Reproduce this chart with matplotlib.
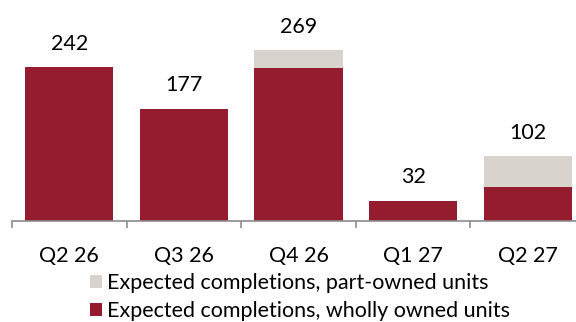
import matplotlib
matplotlib.use('Agg')
import matplotlib.pyplot as plt
from matplotlib.patches import Patch

quarters = ['Q2 26', 'Q3 26', 'Q4 26', 'Q1 27', 'Q2 27']
wholly_owned = [242, 177, 241, 32, 54]
part_owned = [0, 0, 28, 0, 48]
totals = [242, 177, 269, 32, 102]

red = '#951C2F'
grey = '#D8D3CD'

plt.rcParams['font.family'] = ['Lato', 'DejaVu Sans']

fig = plt.figure(figsize=(5.76, 3.22), dpi=100)
ax = fig.add_axes([12 / 576, 101 / 322, 573 / 576, 221 / 322])

x = list(range(len(quarters)))
ax.bar(x, wholly_owned, width=0.77, color=red, edgecolor='none', zorder=2)
ax.bar(x, part_owned, width=0.77, bottom=wholly_owned, color=grey, edgecolor='none', zorder=2)

for i, t in enumerate(totals):
    ax.text(i, t + 37, str(t), ha='center', va='center', fontsize=15.5, color='black')

ax.set_xlim(-0.5, 4.5)
ax.set_ylim(0, 348)
for s in ['top', 'right', 'left']:
    ax.spines[s].set_visible(False)
ax.spines['bottom'].set_color('#8C8C8C')
ax.spines['bottom'].set_linewidth(1.2)
ax.set_yticks([])

ax.set_xticks(x)
ax.set_xticklabels(quarters, fontsize=15.5)
ax.tick_params(axis='x', which='major', length=0, pad=18)
ax.set_xticks([i - 0.5 for i in range(6)], minor=True)
ax.tick_params(axis='x', which='minor', length=5, width=1.2, color='#8C8C8C', direction='out')

handles = [Patch(facecolor=grey, edgecolor='none'), Patch(facecolor=red, edgecolor='none')]
labels = ['Expected completions, part-owned units', 'Expected completions, wholly owned units']
fig.legend(handles, labels, loc='center', bbox_to_anchor=(300 / 576, 1 - 297 / 322), frameon=False,
           fontsize=15.5, handlelength=0.55, handleheight=0.55, handletextpad=0.25, labelspacing=0.4,
           borderpad=0)

fig.savefig('out.png', dpi=100)
